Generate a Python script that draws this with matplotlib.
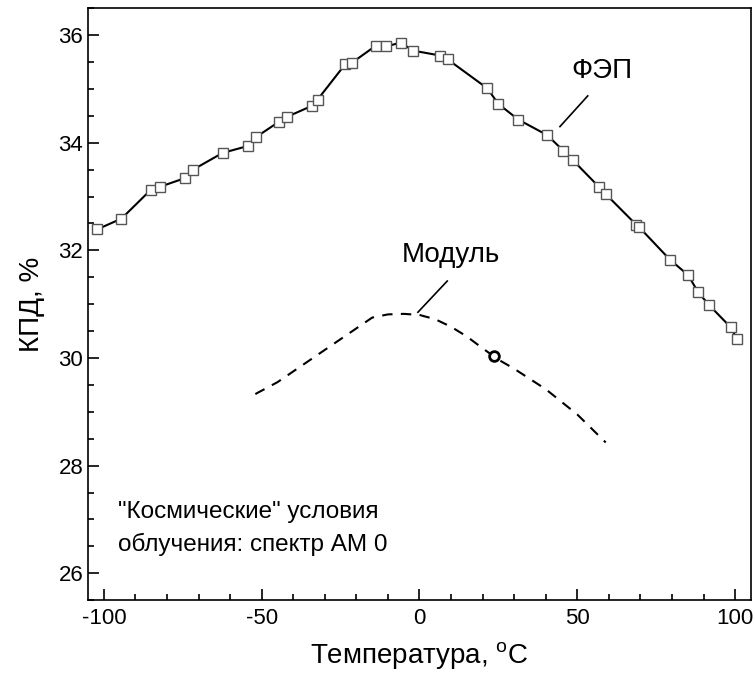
import numpy as np
import matplotlib
matplotlib.use('Agg')
import matplotlib.pyplot as plt
from matplotlib.ticker import MultipleLocator

plt.rcParams['font.family'] = ['Liberation Sans Narrow', 'Liberation Sans', 'DejaVu Sans']
plt.rcParams['axes.unicode_minus'] = False

# ФЭП (solar cell) measured points
fep_t = [-102.1, -94.4, -85.2, -82.3, -74.4, -71.7, -62.4, -54.3, -51.9, -44.5,
         -42.0, -33.9, -32.3, -23.5, -21.3, -13.9, -10.5, -6.0, -1.9, 6.6,
         8.9, 21.5, 25.0, 31.3, 40.5, 45.6, 48.7, 57.0, 59.1, 68.6,
         69.6, 79.3, 85.1, 88.3, 91.8, 98.6, 100.6]
fep_eff = [32.39, 32.59, 33.12, 33.18, 33.34, 33.50, 33.81, 33.94, 34.10, 34.39,
           34.48, 34.69, 34.80, 35.46, 35.49, 35.80, 35.79, 35.86, 35.71, 35.62,
           35.55, 35.01, 34.72, 34.43, 34.14, 33.85, 33.67, 33.17, 33.04, 32.48,
           32.43, 31.83, 31.54, 31.22, 30.98, 30.57, 30.35]

# Модуль (module) dashed curve
mod_t = [-52, -45, -40, -30, -20, -15, -10, -5, 0, 5, 10, 15, 20, 25, 30, 40, 50, 59]
mod_eff = [29.33, 29.55, 29.75, 30.15, 30.55, 30.75, 30.81, 30.82, 30.80, 30.72,
           30.58, 30.40, 30.18, 29.97, 29.80, 29.42, 28.95, 28.43]

# single module measurement
mod_pt_t = [23.7]
mod_pt_eff = [30.03]

fig = plt.figure(figsize=(7.55, 6.82), dpi=100)
ax = fig.add_axes([0.1166, 0.12, 0.878, 0.868])

ax.plot(fep_t, fep_eff, color='black', lw=1.5, marker='s', ms=6.5,
        mfc='white', mec='#555555', mew=1.0)
ax.plot(mod_t, mod_eff, color='black', lw=1.5, ls=(0, (5, 4)))
ax.plot(mod_pt_t, mod_pt_eff, ls='none', marker='o', ms=7, mfc='white',
        mec='black', mew=2)

# leaders and labels
ax.plot([44.5, 53.3], [34.30, 34.87], color='black', lw=1.2)
ax.text(57.9, 35.33, 'ФЭП', fontsize=20, ha='center', va='center')
ax.plot([-0.5, 8.8], [30.85, 31.43], color='black', lw=1.2)
ax.text(9.8, 31.91, 'Модуль', fontsize=20, ha='center', va='center')

ax.text(-95.6, 26.83, '"Космические" условия\nоблучения: спектр АМ 0',
        fontsize=17.5, ha='left', va='center', linespacing=1.5)

ax.set_xlim(-105, 105)
ax.set_ylim(25.5, 36.5)
ax.xaxis.set_major_locator(MultipleLocator(50))
ax.xaxis.set_minor_locator(MultipleLocator(10))
ax.yaxis.set_major_locator(MultipleLocator(2))
ax.yaxis.set_minor_locator(MultipleLocator(0.5))
ax.tick_params(which='both', direction='in', width=1.2, labelsize=16)
ax.tick_params(which='major', length=8)
ax.tick_params(which='minor', length=4)
ax.tick_params(axis='x', pad=6)
for s in ax.spines.values():
    s.set_linewidth(1.2)

ax.set_xlabel('Температура, $^{\\mathregular{o}}$C', fontsize=20, labelpad=8)
ax.set_ylabel('КПД, %', fontsize=20, labelpad=10)

fig.savefig('out.png', dpi=100)
